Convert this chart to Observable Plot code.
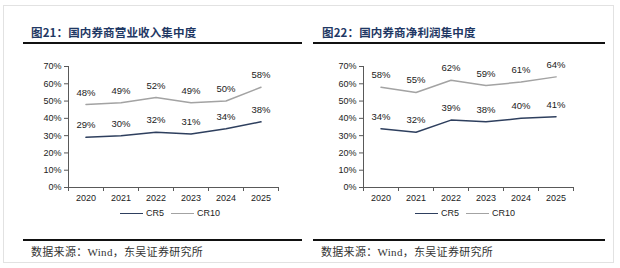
<!DOCTYPE html>
<html>
<head>
<meta charset="utf-8">
<script src="https://cdn.jsdelivr.net/npm/d3@7"></script>
<script src="https://cdn.jsdelivr.net/npm/@observablehq/plot@0.6"></script>
<style>
  html, body { margin: 0; padding: 0; background: #fff; }
  body { width: 620px; height: 268px; position: relative; overflow: hidden; font-family: "Liberation Sans", Arial, sans-serif; }
  .frame { position: absolute; left: 3px; top: 5px; width: 611px; height: 258px; border: 1px solid #e2e2e2; box-sizing: border-box; }
  .panel { position: absolute; top: 0; width: 310px; height: 268px; }
  .title { position: absolute; top: 24px; font-family: "Noto Sans CJK SC", sans-serif; font-weight: 700; font-size: 11.5px; color: #1f3864; white-space: nowrap; letter-spacing: 0.15px; }
  .rule { position: absolute; height: 0; border-top: 2px solid #111; }
  .chart { position: absolute; top: 55px; left: 0; }
  .legend { position: absolute; top: 208px; font-size: 9px; color: #222; display: flex; align-items: center; white-space: nowrap; }
  .legend .sw { display: inline-block; width: 23px; height: 0; margin-right: 3px; }
  .legend .item { display: flex; align-items: center; margin-right: 7px; }
  .source { position: absolute; top: 243px; font-family: "Liberation Serif", "Noto Sans CJK SC", serif; font-size: 11px; color: #333; white-space: nowrap; letter-spacing: 0.3px; }
</style>
</head>
<body>
<div class="frame"></div>
<div id="p1" class="panel" style="left:0px"></div>
<div id="p2" class="panel" style="left:310px"></div>
<script>
// Years on the category axis
const years = [2020, 2021, 2022, 2023, 2024, 2025];
// Series names and colours
const seriesNames = ["CR5", "CR10"];
const seriesColors = ["#2e3f5e", "#a3a3a3"];
// 图21: revenue concentration (%)
const revenueCR5 = [29, 30, 32, 31, 34, 38];
const revenueCR10 = [48, 49, 52, 49, 50, 58];
// 图22: net profit concentration (%)
const profitCR5 = [34, 32, 39, 38, 40, 41];
const profitCR10 = [58, 55, 62, 59, 61, 64];
// Y-axis ticks (%)
const yTicks = [0, 10, 20, 30, 40, 50, 60, 70];

function toRows(cr5, cr10) {
  return [
    ...years.map((y, i) => ({year: y, value: cr5[i], series: "CR5"})),
    ...years.map((y, i) => ({year: y, value: cr10[i], series: "CR10"}))
  ];
}

// tick marks sit between categories, as in a classic spreadsheet chart
const boundaries = [years[0] - 0.5, ...years.map(y => y + 0.5)];

function drawPanel(el, opts) {
  const rows = toRows(opts.cr5, opts.cr10);
  const axisColor = "#595959";
  const chart = Plot.plot({
    width: 310,
    height: 152,
    marginTop: 11,
    marginBottom: 20,
    marginLeft: opts.marginLeft,
    marginRight: 310 - opts.marginLeft - 210,
    style: {fontFamily: "Liberation Sans, Arial, sans-serif", fontSize: "9px", color: "#222", background: "transparent"},
    x: {domain: [years[0] - 0.5, years[years.length - 1] + 0.5]},
    y: {domain: [0, 70]},
    color: {domain: seriesNames, range: seriesColors},
    marks: [
      Plot.axisY({ticks: yTicks, tickFormat: d => d + "%", tickSize: 4, tickPadding: 3, stroke: axisColor, label: null, fill: "#222"}),
      Plot.ruleX([years[0] - 0.5], {stroke: axisColor}),
      Plot.ruleY([0], {stroke: axisColor}),
      Plot.axisX({ticks: boundaries, tickFormat: () => "", tickSize: 4, stroke: axisColor, label: null}),
      Plot.axisX({ticks: years, tickFormat: d => String(d), tickSize: 0, tickPadding: 7, label: null, fill: "#222"}),
      Plot.line(rows, {x: "year", y: "value", z: "series", stroke: "series", strokeWidth: 1.5}),
      Plot.text(rows, {x: "year", y: "value", text: d => d.value + "%", dy: -12, fontSize: 9.5, fill: "#222"})
    ]
  });
  const c = document.createElement("div");
  c.className = "chart";
  c.appendChild(chart);
  el.appendChild(c);

  const t = document.createElement("div");
  t.className = "title";
  t.style.left = opts.titleLeft + "px";
  t.textContent = opts.title;
  el.appendChild(t);

  const r1 = document.createElement("div");
  r1.className = "rule";
  r1.style.left = opts.ruleLeft + "px";
  r1.style.width = opts.ruleWidth + "px";
  r1.style.top = "42px";
  el.appendChild(r1);

  const lg = document.createElement("div");
  lg.className = "legend";
  lg.style.left = opts.legendLeft + "px";
  seriesNames.forEach((name, i) => {
    const it = document.createElement("span");
    it.className = "item";
    const sw = document.createElement("span");
    sw.className = "sw";
    sw.style.borderTop = (i === 0 ? 1.5 : 1) + "px solid " + seriesColors[i];
    it.appendChild(sw);
    const tx = document.createElement("span");
    tx.textContent = name;
    it.appendChild(tx);
    lg.appendChild(it);
  });
  el.appendChild(lg);

  const r2 = document.createElement("div");
  r2.className = "rule";
  r2.style.left = opts.ruleLeft + "px";
  r2.style.width = opts.ruleWidth + "px";
  r2.style.top = "239px";
  el.appendChild(r2);

  const s = document.createElement("div");
  s.className = "source";
  s.style.left = opts.sourceLeft + "px";
  s.textContent = "数据来源：Wind，东吴证券研究所";
  el.appendChild(s);
}

drawPanel(document.getElementById("p1"), {
  title: "图21：国内券商营业收入集中度",
  cr5: revenueCR5, cr10: revenueCR10,
  marginLeft: 68, titleLeft: 31, ruleLeft: 23, ruleWidth: 279,
  legendLeft: 120, sourceLeft: 31
});
drawPanel(document.getElementById("p2"), {
  title: "图22：国内券商净利润集中度",
  cr5: profitCR5, cr10: profitCR10,
  marginLeft: 53, titleLeft: 12, ruleLeft: 3, ruleWidth: 292,
  legendLeft: 105, sourceLeft: 11
});
</script>
</body>
</html>
